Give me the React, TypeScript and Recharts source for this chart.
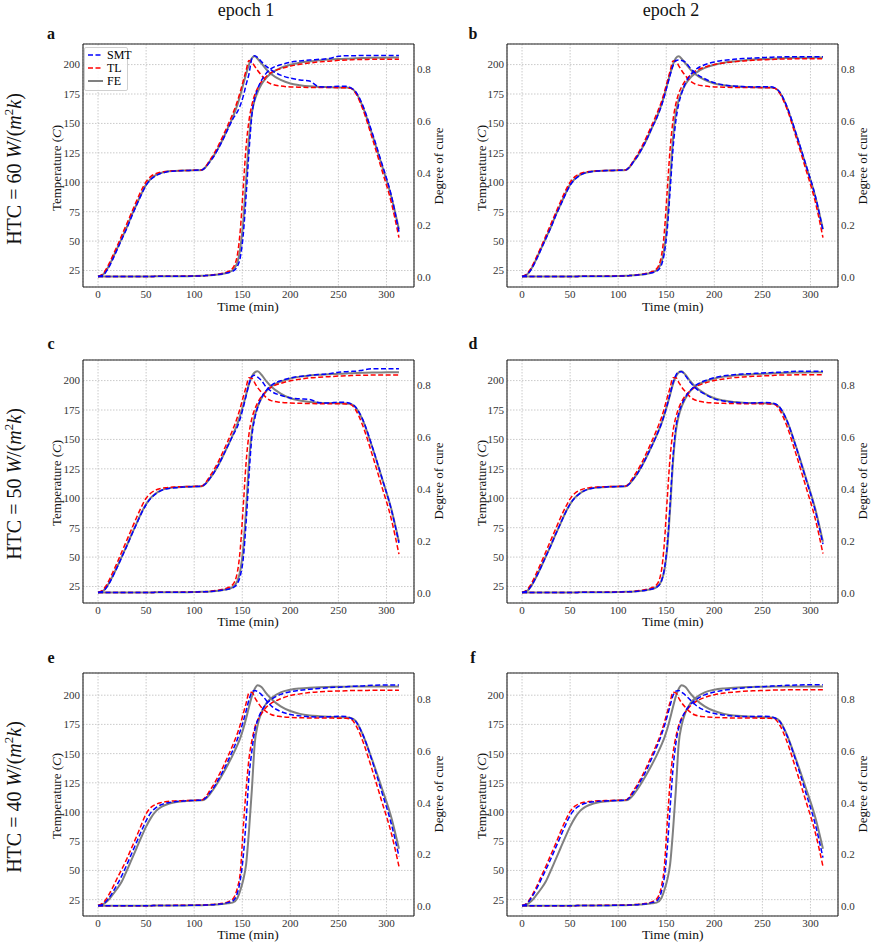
import { CartesianGrid, Line, LineChart, XAxis, YAxis } from "recharts";

// shared time grid (min)
const TIME = [0, 5, 10, 15, 20, 25, 30, 35, 40, 45, 50, 55, 60, 65, 70, 80, 90, 100, 108, 112, 116, 120, 125, 130, 135, 140, 145, 148, 151, 154, 157, 160, 163, 166, 170, 175, 180, 190, 200, 210, 220, 230, 240, 250, 258, 263, 268, 275, 285, 295, 305, 313];

const X_TICKS = [0, 50, 100, 150, 200, 250, 300];
const X_MINOR = [-10, 10, 20, 30, 40, 60, 70, 80, 90, 110, 120, 130, 140, 160, 170, 180, 190, 210, 220, 230, 240, 260, 270, 280, 290, 310, 320];
const TEMP_TICKS = [25, 50, 75, 100, 125, 150, 175, 200];
const TEMP_MINOR = [15, 20, 30, 35, 40, 45, 55, 60, 65, 70, 80, 85, 90, 95, 105, 110, 115, 120, 130, 135, 140, 145, 155, 160, 165, 170, 180, 185, 190, 195, 205, 210, 215];
const CURE_TICKS = [0, 0.2, 0.4, 0.6, 0.8];
const CURE_MINOR = [0.05, 0.1, 0.15, 0.25, 0.3, 0.35, 0.45, 0.5, 0.55, 0.65, 0.7, 0.75, 0.85];

// FE reference, HTC = 60
const FE60_T = [20, 21.5, 27, 35, 44, 53, 62, 72, 81, 90, 98, 103, 106, 107.8, 108.8, 109.6, 110, 110.2, 110.5, 113, 117.5, 122, 129, 137, 146, 155, 166, 174, 183, 192, 200, 205.5, 207, 205, 201, 196, 192, 187, 184, 182.5, 181.5, 181, 180.8, 180.6, 180.5, 180, 176.5, 165, 141, 115, 88, 60];
const FE60_C = [0, 0, 0, 0, 0, 0, 0, 0, 0, 0, 0, 0, 0.001, 0.001, 0.001, 0.001, 0.0015, 0.002, 0.003, 0.004, 0.005, 0.006, 0.008, 0.011, 0.016, 0.024, 0.055, 0.11, 0.21, 0.37, 0.53, 0.63, 0.68, 0.71, 0.74, 0.765, 0.782, 0.803, 0.815, 0.823, 0.828, 0.832, 0.835, 0.837, 0.838, 0.839, 0.84, 0.841, 0.842, 0.842, 0.843, 0.843];
// FE reference, HTC = 50
const FE50_T = [20, 21.2, 26, 33.5, 42, 51, 60, 69.5, 78.5, 87.5, 95, 100.5, 104, 106.5, 108, 109.2, 109.7, 110, 110.3, 112.5, 116.5, 121, 128, 136, 144.5, 153.5, 163.5, 171, 179, 188, 197, 203.5, 207, 208, 205, 199.5, 195, 189, 185, 183, 181.8, 181.2, 180.9, 180.7, 180.6, 180.2, 177.2, 167, 144, 118, 91, 63];
const FE50_C = [0, 0, 0, 0, 0, 0, 0, 0, 0, 0, 0, 0, 0.001, 0.001, 0.001, 0.001, 0.0015, 0.002, 0.003, 0.003, 0.004, 0.005, 0.007, 0.01, 0.014, 0.021, 0.045, 0.085, 0.17, 0.32, 0.5, 0.62, 0.68, 0.715, 0.748, 0.775, 0.793, 0.812, 0.824, 0.831, 0.835, 0.838, 0.84, 0.842, 0.843, 0.844, 0.845, 0.846, 0.847, 0.847, 0.848, 0.848];
// FE reference, HTC = 40
const FE40_T = [20, 21, 24, 29, 34.5, 41, 50, 59.5, 69, 78.5, 87.5, 95, 100.5, 104, 106, 108.3, 109.3, 109.8, 110, 111.5, 115, 119.5, 126, 133, 140.5, 148.5, 157.5, 163.5, 171, 180, 190, 199, 205.5, 208.5, 207, 201.5, 197, 190.5, 186.5, 184, 182.7, 182, 181.5, 181.2, 181, 180.5, 178, 167, 145, 121, 95.5, 68.5];
const FE40_C = [0, 0, 0, 0, 0, 0, 0, 0, 0, 0, 0, 0, 0.001, 0.001, 0.001, 0.001, 0.0012, 0.0015, 0.002, 0.0025, 0.003, 0.004, 0.005, 0.007, 0.009, 0.012, 0.03, 0.06, 0.1, 0.16, 0.29, 0.45, 0.63, 0.7, 0.75, 0.785, 0.805, 0.828, 0.838, 0.843, 0.846, 0.848, 0.849, 0.85, 0.85, 0.851, 0.851, 0.851, 0.851, 0.851, 0.851, 0.851];

// panel a: HTC 60, epoch 1
const A_SMT_T = [20, 21, 26, 34, 43, 52, 61, 71, 80.5, 89.5, 97.5, 102.5, 105.5, 107.5, 108.6, 109.5, 110, 110.2, 110.5, 112.8, 117, 121.5, 128.5, 136.5, 145, 153.5, 160, 165.5, 173, 183, 192, 205, 207.5, 206, 202.5, 198.5, 195.5, 191, 188.5, 187, 186, 181.2, 181, 181.6, 181.5, 180.2, 177, 166, 142.5, 116.5, 89, 58];
const A_TL_T = [20, 22, 28.5, 37, 46, 55.5, 65, 74.5, 84, 93, 100.5, 105, 107.3, 108.5, 109.2, 109.8, 110, 110.2, 110.5, 113.5, 118.5, 123.5, 131, 139.5, 148.5, 158, 169, 177, 186, 195, 203.5, 202, 198.5, 195, 191, 186, 183.5, 181.8, 181, 180.8, 180.6, 180.5, 180.5, 180.4, 180.3, 179.8, 175.5, 163, 138, 111, 83, 53];
const A_SMT_C = [0, 0, 0, 0, 0, 0, 0, 0, 0, 0, 0, 0, 0.001, 0.001, 0.001, 0.001, 0.0015, 0.002, 0.003, 0.004, 0.005, 0.006, 0.008, 0.011, 0.015, 0.02, 0.04, 0.075, 0.16, 0.31, 0.48, 0.62, 0.685, 0.722, 0.755, 0.783, 0.8, 0.815, 0.825, 0.83, 0.833, 0.836, 0.839, 0.848, 0.85, 0.85, 0.85, 0.851, 0.851, 0.851, 0.851, 0.851];
const A_TL_C = [0, 0, 0, 0, 0, 0, 0, 0, 0, 0, 0, 0, 0.001, 0.001, 0.001, 0.0015, 0.002, 0.0025, 0.003, 0.004, 0.005, 0.007, 0.009, 0.013, 0.019, 0.032, 0.085, 0.18, 0.34, 0.5, 0.6, 0.66, 0.7, 0.725, 0.75, 0.77, 0.785, 0.8, 0.81, 0.817, 0.822, 0.826, 0.829, 0.832, 0.833, 0.834, 0.835, 0.835, 0.836, 0.836, 0.836, 0.836];

// panel b: HTC 60, epoch 2
const B_SMT_T = [20, 21.5, 26.5, 34.5, 43.5, 52.5, 61.5, 71.5, 80.5, 89.5, 97.5, 102.5, 105.8, 107.8, 108.8, 109.6, 110, 110.2, 110.5, 113, 117.5, 122, 129, 137, 146, 154.5, 165, 173, 182, 191, 199, 203.5, 204, 203.5, 202, 197, 193, 188, 184.5, 182.7, 181.8, 181.3, 181, 181.2, 181.1, 180.2, 176.8, 165.5, 141.5, 115.5, 88.5, 59];
const B_TL_T = [20, 22, 28, 36.5, 45.5, 55, 64.5, 74, 83.5, 92.5, 100, 104.8, 107.2, 108.5, 109.2, 109.8, 110, 110.2, 110.5, 113.5, 118.5, 123.5, 131, 139.5, 148.5, 158, 168.5, 176.5, 185.5, 194.5, 203, 203, 199, 195, 190.5, 186, 183.5, 181.8, 181, 180.8, 180.6, 180.5, 180.5, 180.4, 180.3, 179.8, 175.5, 163.5, 138.5, 111.5, 83.5, 53];
const B_SMT_C = [0, 0, 0, 0, 0, 0, 0, 0, 0, 0, 0, 0, 0.001, 0.001, 0.001, 0.001, 0.0015, 0.002, 0.003, 0.004, 0.005, 0.006, 0.008, 0.011, 0.015, 0.021, 0.045, 0.09, 0.18, 0.33, 0.49, 0.6, 0.665, 0.705, 0.745, 0.775, 0.795, 0.815, 0.826, 0.832, 0.836, 0.839, 0.841, 0.843, 0.844, 0.845, 0.845, 0.846, 0.846, 0.846, 0.846, 0.846];
const B_TL_C = [0, 0, 0, 0, 0, 0, 0, 0, 0, 0, 0, 0, 0.001, 0.001, 0.001, 0.0015, 0.002, 0.0025, 0.003, 0.004, 0.005, 0.007, 0.009, 0.013, 0.019, 0.03, 0.08, 0.17, 0.33, 0.49, 0.6, 0.665, 0.705, 0.73, 0.755, 0.775, 0.79, 0.806, 0.816, 0.822, 0.826, 0.83, 0.832, 0.834, 0.835, 0.836, 0.837, 0.837, 0.838, 0.838, 0.838, 0.838];

// panel c: HTC 50, epoch 1
const C_SMT_T = [20, 21, 25.5, 33, 41.5, 50.5, 59.5, 69, 78, 87, 94.5, 100, 103.8, 106.3, 107.8, 109, 109.6, 110, 110.3, 112.5, 116.5, 121, 128, 136, 144.5, 153, 161, 168, 177, 187, 197, 203.5, 204.5, 203, 200, 194.5, 191, 187.5, 185.3, 184.5, 184, 181.2, 181, 181.7, 181.4, 180.4, 177.4, 167.5, 144.5, 118, 90.5, 62];
const C_TL_T = [20, 22, 28, 36.5, 45.5, 55, 64.5, 74, 83.5, 92.5, 100, 104.5, 107, 108.3, 109, 109.6, 109.9, 110.1, 110.4, 113.5, 118.5, 123.5, 131, 139.5, 148.5, 158, 169, 177, 186, 194.5, 202.5, 202, 198, 194, 190, 185.5, 183, 181.5, 181, 180.7, 180.5, 180.4, 180.4, 180.3, 180.2, 179.6, 175, 162.5, 137.5, 110.5, 82.5, 52.5];
const C_SMT_C = [0, 0, 0, 0, 0, 0, 0, 0, 0, 0, 0, 0, 0.001, 0.001, 0.001, 0.001, 0.0015, 0.002, 0.003, 0.003, 0.004, 0.005, 0.007, 0.01, 0.013, 0.018, 0.035, 0.065, 0.13, 0.27, 0.45, 0.6, 0.67, 0.712, 0.75, 0.778, 0.797, 0.815, 0.826, 0.832, 0.836, 0.839, 0.842, 0.848, 0.85, 0.851, 0.852, 0.856, 0.861, 0.861, 0.861, 0.861];
const C_TL_C = [0, 0, 0, 0, 0, 0, 0, 0, 0, 0, 0, 0, 0.001, 0.001, 0.001, 0.0015, 0.002, 0.0025, 0.003, 0.004, 0.005, 0.007, 0.009, 0.013, 0.019, 0.03, 0.08, 0.17, 0.33, 0.5, 0.61, 0.67, 0.705, 0.73, 0.755, 0.775, 0.79, 0.805, 0.815, 0.821, 0.826, 0.829, 0.831, 0.833, 0.834, 0.835, 0.836, 0.836, 0.837, 0.837, 0.837, 0.837];

// panel d: HTC 50, epoch 2
const D_SMT_T = [20, 21.2, 26, 33.5, 42, 51, 60, 69.5, 78.5, 87.5, 95, 100.5, 104, 106.5, 108, 109.2, 109.7, 110, 110.3, 112.5, 116.5, 121, 128, 136, 144.5, 153.5, 163.5, 171, 179.5, 188.5, 198, 204.5, 207.5, 207.5, 204, 198.5, 194, 188.5, 184.5, 182.6, 181.6, 181.2, 181, 181.4, 181.2, 180.3, 177.3, 167, 143.5, 117, 89.5, 61];
const D_TL_T = [20, 22, 28, 36.5, 45.5, 55, 64.5, 74, 83.5, 92, 99.5, 104.3, 106.8, 108.2, 109, 109.6, 109.9, 110.1, 110.4, 113.5, 118.5, 123.5, 131, 139.5, 148.5, 158, 168.5, 176.5, 185.5, 194, 202.5, 202.5, 198.5, 194.5, 190.5, 186, 183.5, 181.6, 181, 180.7, 180.5, 180.4, 180.4, 180.3, 180.2, 179.6, 175, 162.5, 137.5, 110.5, 82.5, 53];
const D_SMT_C = [0, 0, 0, 0, 0, 0, 0, 0, 0, 0, 0, 0, 0.001, 0.001, 0.001, 0.001, 0.0015, 0.002, 0.003, 0.003, 0.004, 0.005, 0.007, 0.01, 0.014, 0.021, 0.045, 0.09, 0.18, 0.34, 0.52, 0.635, 0.69, 0.722, 0.752, 0.778, 0.796, 0.815, 0.827, 0.834, 0.838, 0.841, 0.843, 0.845, 0.846, 0.847, 0.848, 0.849, 0.852, 0.852, 0.852, 0.852];
const D_TL_C = [0, 0, 0, 0, 0, 0, 0, 0, 0, 0, 0, 0, 0.001, 0.001, 0.001, 0.0015, 0.002, 0.0025, 0.003, 0.004, 0.005, 0.007, 0.009, 0.013, 0.019, 0.03, 0.085, 0.19, 0.36, 0.52, 0.62, 0.675, 0.71, 0.735, 0.758, 0.777, 0.791, 0.806, 0.816, 0.822, 0.827, 0.83, 0.832, 0.834, 0.835, 0.836, 0.837, 0.837, 0.838, 0.838, 0.838, 0.838];

// panel e: HTC 40, epoch 1
const E_SMT_T = [20, 21, 25, 31, 38, 46, 55, 64.5, 74, 83.5, 92.5, 99.5, 103.5, 106, 107.5, 108.8, 109.5, 109.9, 110.2, 112, 116, 120.5, 127.5, 135, 143.5, 152.5, 162.5, 169.5, 177.5, 186.5, 196, 202.5, 204, 203, 200.5, 195.5, 191, 186, 183.5, 182.3, 181.6, 181.4, 181.6, 182, 181.8, 180.4, 177.6, 167, 144, 117.5, 90, 62];
const E_TL_T = [20, 22, 27.5, 35, 43.5, 51.5, 60, 69.5, 79, 89, 98.5, 104, 106.5, 108, 108.8, 109.5, 109.8, 110, 110.3, 113, 118, 123, 130.5, 138.5, 147.5, 157, 167.5, 175, 184, 193, 202, 202.5, 198, 194, 189.5, 186, 183.5, 181.7, 181, 180.7, 180.5, 180.4, 180.4, 180.3, 180.2, 179.5, 174.5, 161.5, 136.5, 109.5, 82, 53.5];
const E_SMT_C = [0, 0, 0, 0, 0, 0, 0, 0, 0, 0, 0, 0, 0.001, 0.001, 0.001, 0.001, 0.0012, 0.0015, 0.002, 0.0025, 0.003, 0.004, 0.006, 0.008, 0.012, 0.018, 0.05, 0.1, 0.19, 0.33, 0.5, 0.6, 0.68, 0.72, 0.755, 0.783, 0.8, 0.82, 0.83, 0.836, 0.84, 0.843, 0.846, 0.848, 0.85, 0.851, 0.852, 0.853, 0.855, 0.856, 0.856, 0.856];
const E_TL_C = [0, 0, 0, 0, 0, 0, 0, 0, 0, 0, 0, 0, 0.001, 0.001, 0.001, 0.0013, 0.0017, 0.002, 0.0025, 0.003, 0.004, 0.005, 0.007, 0.01, 0.015, 0.025, 0.07, 0.13, 0.3, 0.45, 0.57, 0.64, 0.69, 0.72, 0.745, 0.77, 0.785, 0.803, 0.816, 0.822, 0.827, 0.83, 0.832, 0.833, 0.834, 0.835, 0.835, 0.835, 0.836, 0.836, 0.836, 0.836];

// panel f: HTC 40, epoch 2
const F_SMT_T = [20, 21.5, 27, 34, 42.5, 51, 60, 69.5, 79, 88.5, 97, 102.5, 105.5, 107.3, 108.3, 109.2, 109.6, 109.9, 110.2, 112.5, 117, 122, 129, 137, 146, 155.5, 166, 173.5, 182, 191, 199.5, 203.5, 204, 202.5, 200, 196, 192, 187, 184.3, 183, 182.2, 181.8, 181.8, 182, 181.8, 180.5, 177.5, 166.5, 143.5, 117, 89.5, 61];
const F_TL_T = [20, 22, 28, 36, 45, 54, 63.5, 73, 83, 92.5, 100.5, 105, 107.3, 108.4, 109, 109.6, 109.9, 110.1, 110.4, 113.5, 118.5, 123.5, 131, 139.5, 148.5, 158, 168.5, 176.5, 185.5, 194, 202.5, 202, 197.5, 193.5, 189.5, 185.5, 183, 181.5, 181, 180.7, 180.5, 180.4, 180.4, 180.3, 180.2, 179.5, 174.5, 161.5, 136.5, 110, 82.5, 53.5];
const F_SMT_C = [0, 0, 0, 0, 0, 0, 0, 0, 0, 0, 0, 0, 0.001, 0.001, 0.001, 0.001, 0.0012, 0.0015, 0.002, 0.0025, 0.003, 0.004, 0.006, 0.008, 0.012, 0.019, 0.055, 0.11, 0.22, 0.38, 0.53, 0.63, 0.69, 0.725, 0.755, 0.78, 0.797, 0.818, 0.829, 0.836, 0.841, 0.845, 0.848, 0.85, 0.852, 0.853, 0.854, 0.855, 0.856, 0.857, 0.857, 0.857];
const F_TL_C = [0, 0, 0, 0, 0, 0, 0, 0, 0, 0, 0, 0, 0.001, 0.001, 0.001, 0.0013, 0.0017, 0.002, 0.0025, 0.003, 0.004, 0.005, 0.007, 0.01, 0.015, 0.026, 0.075, 0.15, 0.32, 0.48, 0.59, 0.655, 0.7, 0.728, 0.752, 0.775, 0.79, 0.808, 0.819, 0.825, 0.829, 0.832, 0.834, 0.835, 0.836, 0.837, 0.837, 0.838, 0.838, 0.838, 0.838, 0.838];

const FONT = "'Liberation Serif', 'DejaVu Serif', serif";
const PLOT_W = 331;
const PLOT_H = 243;
const YW = 40;
const MT = 10;
const XH = 20;
const X_DOMAIN = [-15.65, 328.65];

const tickStyle = { fontSize: 11, fill: "#333", fontFamily: FONT };
const frame = { stroke: "#222", strokeWidth: 1.1 };

type PanelProps = {
  left: number;
  top: number;
  smtT: number[];
  tlT: number[];
  feT: number[];
  smtC: number[];
  tlC: number[];
  feC: number[];
  tempMax: number;
  cureMax: number;
};

const Panel = ({ left, top, smtT, tlT, feT, smtC, tlC, feC, tempMax, cureMax }: PanelProps) => {
  const data = TIME.map((t, i) => ({
    t,
    smtT: smtT[i],
    tlT: tlT[i],
    feT: feT[i],
    smtC: smtC[i],
    tlC: tlC[i],
    feC: feC[i],
  }));
  const tDom = [11, tempMax];
  const cDom = [-0.04, cureMax];

  return (
    <div style={{ position: "absolute", left: left - YW, top: top - MT }}>
      <LineChart
        width={PLOT_W + 2 * YW}
        height={PLOT_H + MT + XH}
        data={data}
        margin={{ top: MT, right: 0, bottom: 0, left: 0 }}
      >
        <CartesianGrid xAxisId="x" yAxisId="t" stroke="#bdbdbd" strokeDasharray="1.5 1.5" strokeWidth={0.8} />

        {/* labelled axes */}
        <XAxis xAxisId="x" dataKey="t" type="number" domain={X_DOMAIN} allowDataOverflow ticks={X_TICKS} interval={0}
          tickLine={false} axisLine={false} tickSize={0} tickMargin={3} height={XH} tick={tickStyle} />
        <YAxis yAxisId="t" type="number" domain={tDom} allowDataOverflow ticks={TEMP_TICKS} interval={0}
          tickLine={false} axisLine={false} tickSize={0} tickMargin={3} width={YW} tick={tickStyle} />
        <YAxis yAxisId="c" orientation="right" type="number" domain={cDom} allowDataOverflow ticks={CURE_TICKS} interval={0}
          tickLine={false} axisLine={false} tickSize={0} tickMargin={3} width={YW} tick={tickStyle}
          tickFormatter={(v: number) => v.toFixed(1)} />

        {/* inward ticks and frame (mirrored axes take no room) */}
        <XAxis xAxisId="bMaj" type="number" domain={X_DOMAIN} allowDataOverflow ticks={X_TICKS} interval={0} mirror height={1}
          tick={false} tickSize={4} tickLine={frame} axisLine={frame} />
        <XAxis xAxisId="bMin" type="number" domain={X_DOMAIN} allowDataOverflow ticks={X_MINOR} interval={0} mirror height={1}
          tick={false} tickSize={2} tickLine={frame} axisLine={false} />
        <XAxis xAxisId="tMaj" orientation="top" type="number" domain={X_DOMAIN} allowDataOverflow ticks={X_TICKS} interval={0} mirror height={1}
          tick={false} tickSize={4} tickLine={frame} axisLine={frame} />
        <XAxis xAxisId="tMin" orientation="top" type="number" domain={X_DOMAIN} allowDataOverflow ticks={X_MINOR} interval={0} mirror height={1}
          tick={false} tickSize={2} tickLine={frame} axisLine={false} />
        <YAxis yAxisId="lMaj" type="number" domain={tDom} allowDataOverflow ticks={TEMP_TICKS} interval={0} mirror width={1}
          tick={false} tickSize={4} tickLine={frame} axisLine={frame} />
        <YAxis yAxisId="lMin" type="number" domain={tDom} allowDataOverflow ticks={TEMP_MINOR} interval={0} mirror width={1}
          tick={false} tickSize={2} tickLine={frame} axisLine={false} />
        <YAxis yAxisId="rMaj" orientation="right" type="number" domain={cDom} allowDataOverflow ticks={CURE_TICKS} interval={0} mirror width={1}
          tick={false} tickSize={4} tickLine={frame} axisLine={frame} />
        <YAxis yAxisId="rMin" orientation="right" type="number" domain={cDom} allowDataOverflow ticks={CURE_MINOR} interval={0} mirror width={1}
          tick={false} tickSize={2} tickLine={frame} axisLine={false} />

        <Line xAxisId="x" yAxisId="t" dataKey="feT" type="monotone" stroke="#808080" strokeWidth={2} dot={false} isAnimationActive={false} />
        <Line xAxisId="x" yAxisId="c" dataKey="feC" type="monotone" stroke="#808080" strokeWidth={2} dot={false} isAnimationActive={false} />
        <Line xAxisId="x" yAxisId="t" dataKey="tlT" type="monotone" stroke="#ff0000" strokeWidth={1.5} strokeDasharray="5 2.5" dot={false} isAnimationActive={false} />
        <Line xAxisId="x" yAxisId="c" dataKey="tlC" type="monotone" stroke="#ff0000" strokeWidth={1.5} strokeDasharray="5 2.5" dot={false} isAnimationActive={false} />
        <Line xAxisId="x" yAxisId="t" dataKey="smtT" type="monotone" stroke="#0000ff" strokeWidth={1.5} strokeDasharray="5 2.5" dot={false} isAnimationActive={false} />
        <Line xAxisId="x" yAxisId="c" dataKey="smtC" type="monotone" stroke="#0000ff" strokeWidth={1.5} strokeDasharray="5 2.5" dot={false} isAnimationActive={false} />
      </LineChart>
    </div>
  );
};

const Txt = ({ x, y, size, rotate, bold, children }: { x: number; y: number; size: number; rotate?: boolean; bold?: boolean; children: any }) => (
  <div
    style={{
      position: "absolute",
      left: x,
      top: y,
      transform: `translate(-50%, -50%)${rotate ? " rotate(-90deg)" : ""}`,
      fontSize: size,
      fontWeight: bold ? 700 : 400,
      whiteSpace: "nowrap",
      lineHeight: 1,
      color: "#111",
    }}
  >
    {children}
  </div>
);

const COLS = [82.5, 507.3];
const ROWS = [44, 359.7, 672.7];
const LETTER_Y = [33.5, 344, 658];
const ROW_LABELS = ["60", "50", "40"];

const PANELS = [
  { key: "a", r: 0, c: 0, smtT: A_SMT_T, tlT: A_TL_T, smtC: A_SMT_C, tlC: A_TL_C },
  { key: "b", r: 0, c: 1, smtT: B_SMT_T, tlT: B_TL_T, smtC: B_SMT_C, tlC: B_TL_C },
  { key: "c", r: 1, c: 0, smtT: C_SMT_T, tlT: C_TL_T, smtC: C_SMT_C, tlC: C_TL_C },
  { key: "d", r: 1, c: 1, smtT: D_SMT_T, tlT: D_TL_T, smtC: D_SMT_C, tlC: D_TL_C },
  { key: "e", r: 2, c: 0, smtT: E_SMT_T, tlT: E_TL_T, smtC: E_SMT_C, tlC: E_TL_C },
  { key: "f", r: 2, c: 1, smtT: F_SMT_T, tlT: F_TL_T, smtC: F_SMT_C, tlC: F_TL_C },
];
const FE_T = [FE60_T, FE50_T, FE40_T];
const FE_C = [FE60_C, FE50_C, FE40_C];
const TEMP_MAX = [217.5, 217.5, 219];
const CURE_MAX = [0.895, 0.895, 0.903];

const LegendItem = ({ y, color, dashed, label }: { y: number; color: string; dashed: boolean; label: string }) => (
  <div style={{ position: "absolute", left: 3, top: y, height: 12, display: "flex", alignItems: "center" }}>
    <svg width={15} height={6}>
      <line x1={0} y1={3} x2={15} y2={3} stroke={color} strokeWidth={dashed ? 1.5 : 2} strokeDasharray={dashed ? "5 2.5" : undefined} />
    </svg>
    <span style={{ marginLeft: 4, fontSize: 12, lineHeight: 1 }}>{label}</span>
  </div>
);

export default function App() {
  return (
    <div style={{ position: "absolute", left: 0, top: 0, width: 872, height: 950, background: "#fff", fontFamily: FONT }}>
      {PANELS.map((p) => (
        <Panel
          key={p.key}
          left={COLS[p.c]}
          top={ROWS[p.r]}
          smtT={p.smtT}
          tlT={p.tlT}
          feT={FE_T[p.r]}
          smtC={p.smtC}
          tlC={p.tlC}
          feC={FE_C[p.r]}
          tempMax={TEMP_MAX[p.r]}
          cureMax={CURE_MAX[p.r]}
        />
      ))}

      {PANELS.map((p) => {
        const l = COLS[p.c];
        const t = ROWS[p.r];
        return (
          <div key={p.key + "-txt"}>
            <Txt x={p.c === 0 ? 51 : 473} y={LETTER_Y[p.r]} size={16} bold>{p.key}</Txt>
            <Txt x={l - 26.5} y={t + PLOT_H / 2 + 2} size={13} rotate>
              Temperature (<i>C</i>)
            </Txt>
            <Txt x={l + PLOT_W + 24} y={t + PLOT_H / 2} size={13} rotate>Degree of cure</Txt>
            <Txt x={l + PLOT_W / 2} y={t + PLOT_H + 19.5} size={13.5}>Time (min)</Txt>
          </div>
        );
      })}

      <Txt x={246} y={10} size={18}>epoch 1</Txt>
      <Txt x={671} y={10} size={18}>epoch 2</Txt>

      {ROWS.map((t, r) => (
        <Txt key={"htc" + r} x={13} y={t + PLOT_H / 2 + 3} size={20} rotate>
          HTC = {ROW_LABELS[r]} <i>W</i>/(<i>m</i>
          <sup style={{ fontSize: 13 }}>2</sup>
          <i>k</i>)
        </Txt>
      ))}

      <div
        style={{
          position: "absolute",
          left: 84,
          top: 47,
          width: 42,
          height: 42,
          border: "1px solid #d0d0d0",
          borderRadius: 2,
          background: "rgba(255,255,255,0.85)",
        }}
      >
        <LegendItem y={1} color="#0000ff" dashed label="SMT" />
        <LegendItem y={14} color="#ff0000" dashed label="TL" />
        <LegendItem y={27} color="#808080" dashed={false} label="FE" />
      </div>
    </div>
  );
}
